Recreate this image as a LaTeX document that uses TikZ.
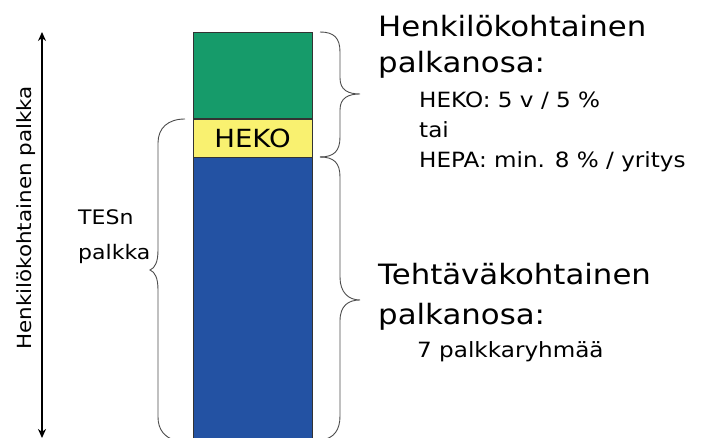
\documentclass[tikz,border=0pt]{standalone}
\usepackage{fontspec}
\setmainfont{DejaVu Sans}[FakeStretch=1.1]
\usetikzlibrary{arrows.meta}
\definecolor{barGreen}{RGB}{22,155,106}
\definecolor{barBlue}{RGB}{35,82,163}
\definecolor{barYellow}{RGB}{249,241,112}
\begin{document}
\begin{tikzpicture}[x=1pt,y=1pt,
  bar/.style={draw=black!80, line width=0.8pt},
  bracepath/.style={draw=black!70, line width=0.9pt},
  bigtxt/.style={anchor=base west, inner sep=0pt, font=\fontsize{28}{30}\selectfont},
  smalltxt/.style={anchor=base west, inner sep=0pt, font=\fontsize{21}{22}\selectfont}]
\useasboundingbox (0,0) rectangle (710,438);
\begin{scope}
\clip (0,0) rectangle (710,438);
% bar
\fill[barGreen] (193,281) rectangle (312,406);
\fill[barBlue] (193,-5) rectangle (312,281);
\node[bar, fill=barYellow, minimum width=119pt, minimum height=39pt, inner sep=0pt,
  font=\fontsize{25}{26}\selectfont] (heko) at (252.5,300) {HEKO};
\draw[bar] (193,-5) -- (193,406) -- (312,406) -- (312,-5);
\draw[bar] (193,319) -- (312,319);
\draw[bar] (193,281) -- (312,281);
% upper right brace
\draw[bracepath] (320,406) .. controls (334,406) and (340,400) .. (340,386) -- (340,360)
  .. controls (340,348) and (348,344) .. (360,344)
  .. controls (348,344) and (340,340) .. (340,328) -- (340,301)
  .. controls (340,287) and (334,281) .. (320,281);
% lower right brace
\draw[bracepath] (320,281) .. controls (334,281) and (340,275) .. (340,261) -- (340,161)
  .. controls (340,146) and (348,138) .. (360,138)
  .. controls (348,138) and (340,132) .. (340,117) -- (340,22)
  .. controls (340,8) and (334,0) .. (322,-2);
% left brace
\draw[bracepath] (185,319) .. controls (168,319) and (158,310) .. (158,295) -- (158,188)
  .. controls (158,176) and (155,170) .. (150,168)
  .. controls (155,166) and (158,160) .. (158,148) -- (158,21)
  .. controls (158,8) and (165,1) .. (174,-2);
\end{scope}
% arrow
\coordinate (atop) at (42,406);
\coordinate (abot) at (42,0);
\draw[line width=1.5pt, {Stealth[length=9pt,width=8pt]}-{Stealth[length=9pt,width=8pt]}] (atop) -- (abot);
\node[rotate=90, inner sep=0pt, font=\fontsize{19.5}{20}\selectfont] (hp) at (26,220) {Henkilökohtainen palkka};
% TESn
\node[anchor=base west, inner sep=0pt, font=\fontsize{20}{22}\selectfont] (tes1) at (78,213) {TESn};
\node[anchor=base west, inner sep=0pt, font=\fontsize{20}{22}\selectfont] (tes2) at (78,178) {palkka};
% right texts
\node[bigtxt] (h1) at (378,401) {Henkilökohtainen};
\node[bigtxt] (h2) at (378,365) {palkanosa:};
\node[smalltxt] (h3) at (419,330) {HEKO: 5 v / 5 \%};
\node[smalltxt] (h4) at (419,300) {tai};
\node[smalltxt] (h5) at (419,270) {HEPA: min. 8 \% / yritys};
\node[bigtxt] (t1) at (378,153) {Tehtäväkohtainen};
\node[bigtxt] (t2) at (378,113) {palkanosa:};
\node[smalltxt] (t3) at (417,80) {7 palkkaryhmää};
\end{tikzpicture}
\end{document}
